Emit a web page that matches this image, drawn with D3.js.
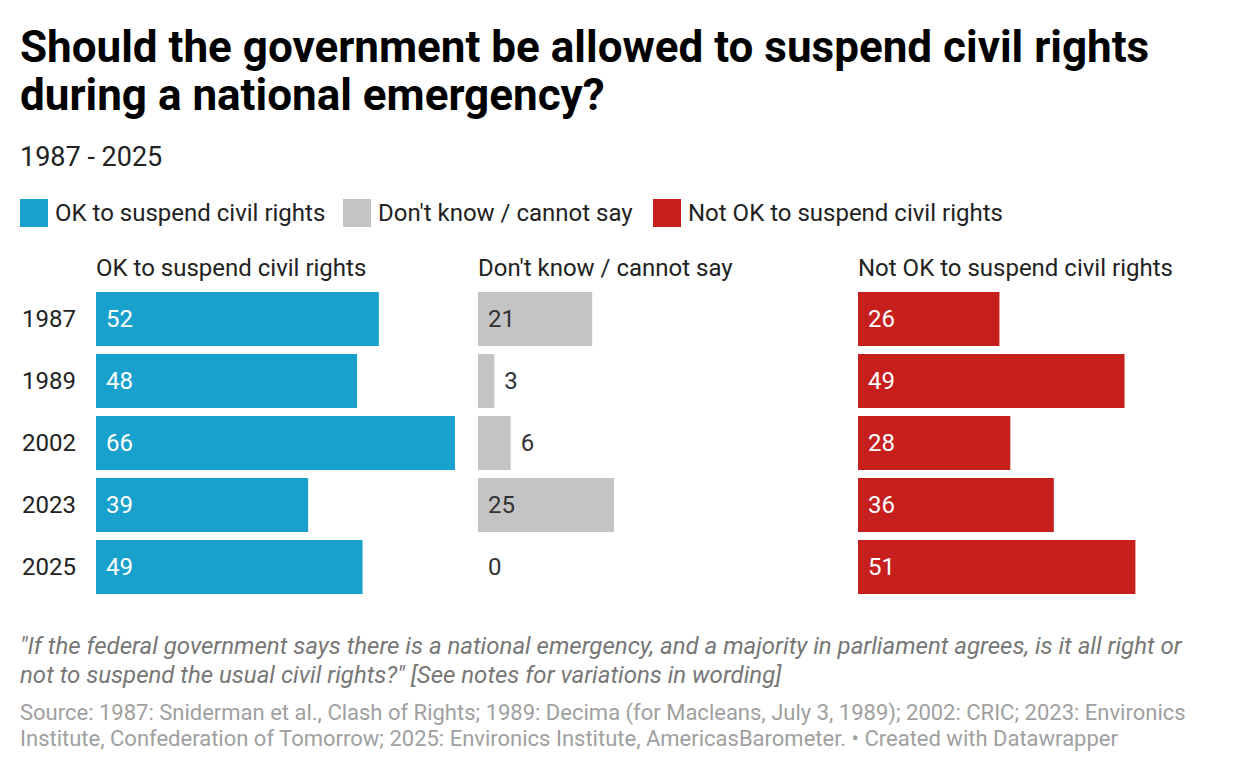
<!DOCTYPE html>
<html><head><meta charset="utf-8">
<script src="https://cdn.jsdelivr.net/npm/d3@7"></script>
<style>
body{margin:0;background:#fff;font-family:Roboto,sans-serif;}
</style></head>
<body>
<svg id="chart" width="1240" height="772"></svg>
<script>
const years = ["1987","1989","2002","2023","2025"];
const seriesNames = ["OK to suspend civil rights","Don't know / cannot say","Not OK to suspend civil rights"];
const okValues = [52,48,66,39,49];
const dkValues = [21,3,6,25,0];
const notOkValues = [26,49,28,36,51];
const colors = ["#18a1cd","#c4c4c4","#c71e1e"];
const labelColors = ["#ffffff","#333333","#ffffff"];

const svg = d3.select("#chart");
const title = ["Should the government be allowed to suspend civil rights","during a national emergency?"];
svg.selectAll("text.title").data(title).join("text").attr("class","title")
  .attr("x",20).attr("y",(d,i)=>62+i*48)
  .attr("font-size",44).attr("font-weight",700).attr("fill","#000").text(d=>d);
svg.append("text").attr("x",20).attr("y",166).attr("font-size",27).attr("fill","#222").text("1987 - 2025");

// legend
const legendX = [20,343,653];
const lg = svg.selectAll("g.leg").data(seriesNames).join("g").attr("class","leg")
  .attr("transform",(d,i)=>`translate(${legendX[i]},199)`);
lg.append("rect").attr("width",28).attr("height",28).attr("fill",(d,i)=>colors[i]);
lg.append("text").attr("x",35).attr("y",22).attr("font-size",24).attr("fill","#222").text(d=>d);

const columns = [okValues, dkValues, notOkValues];
const colX = [96,478,858];
const x = d3.scaleLinear().domain([0,66]).range([0,359]);
const y = d3.scaleBand().domain(years).range([292,594]).paddingInner(8/62).paddingOuter(0);

// year labels
svg.selectAll("text.year").data(years).join("text").attr("class","year")
  .attr("x",22).attr("y",d=>y(d)+y.bandwidth()/2+7.5).attr("font-size",24).attr("fill","#222").text(d=>d);

columns.forEach((vals,ci)=>{
  const g = svg.append("g").attr("transform",`translate(${colX[ci]},0)`);
  g.append("text").attr("x",0).attr("y",276).attr("font-size",24).attr("fill","#222").text(seriesNames[ci]);
  const data = years.map((yr,i)=>({yr, v: vals[i]}));
  g.selectAll("rect").data(data).join("rect")
    .attr("x",0).attr("y",d=>y(d.yr)).attr("width",d=>x(d.v)).attr("height",y.bandwidth())
    .attr("fill",colors[ci]);
  g.selectAll("text.val").data(data).join("text").attr("class","val")
    .attr("x",d=> x(d.v) < 40 && d.v>0 ? x(d.v)+10 : 10)
    .attr("y",d=>y(d.yr)+y.bandwidth()/2+7.5)
    .attr("font-size",24)
    .attr("fill",d=> (x(d.v) < 40) ? "#333" : labelColors[ci])
    .text(d=>d.v);
});

const note = ["\"If the federal government says there is a national emergency, and a majority in parliament agrees, is it all right or","not to suspend the usual civil rights?\" [See notes for variations in wording]"];
svg.selectAll("text.note").data(note).join("text").attr("class","note")
  .attr("x",20).attr("y",(d,i)=>654+i*29).attr("font-size",24).attr("font-style","italic").attr("fill","#777").text(d=>d);
const source = ["Source: 1987: Sniderman et al., Clash of Rights; 1989: Decima (for Macleans, July 3, 1989); 2002: CRIC; 2023: Environics","Institute, Confederation of Tomorrow; 2025: Environics Institute, AmericasBarometer. • Created with Datawrapper"];
svg.selectAll("text.src").data(source).join("text").attr("class","src")
  .attr("x",20).attr("y",(d,i)=>720+i*26).attr("font-size",22).attr("fill","#a0a0a0").text(d=>d);
</script>
</body></html>
